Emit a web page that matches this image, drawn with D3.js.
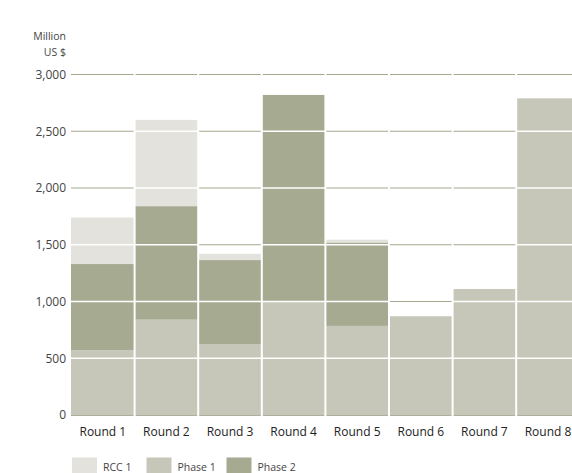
<!DOCTYPE html>
<html>
<head>
<meta charset="utf-8">
<script src="https://cdn.jsdelivr.net/npm/d3@7/dist/d3.min.js"></script>
<style>
  html, body { margin: 0; padding: 0; background: #fff; }
  svg { display: block; font-family: "Open Sans", "Noto Sans", sans-serif; }
</style>
</head>
<body>
<svg id="chart" width="572" height="473"></svg>
<script>
// Funding by round, million US $
const rounds = ["Round 1", "Round 2", "Round 3", "Round 4", "Round 5", "Round 6", "Round 7", "Round 8"];
const phase1 = [570, 840, 625, 1000, 785, 870, 1110, 2790];
const phase2 = [760, 1000, 740, 1820, 735, 0, 0, 0];
const rcc1   = [410, 760, 55, 0, 25, 0, 0, 0];
const seriesNames = ["RCC 1", "Phase 1", "Phase 2"];
const yTicks = [0, 500, 1000, 1500, 2000, 2500, 3000];

const colors = { "RCC 1": "#e3e2dc", "Phase 1": "#c6c7b8", "Phase 2": "#a5aa91" };
const gridColor = "#a6a98f";

const svg = d3.select("#chart");
const x0 = 71, step = 63.6;
const x = d3.scaleBand().domain(rounds).range([x0, x0 + step * rounds.length]).padding(0);
const y = d3.scaleLinear().domain([0, 3000]).range([415, 74.5]);

// stacked data: Phase 1 at bottom, Phase 2, then RCC 1 on top
const rows = rounds.map((r, i) => ({ round: r, "Phase 1": phase1[i], "Phase 2": phase2[i], "RCC 1": rcc1[i] }));
const stack = d3.stack().keys(["Phase 1", "Phase 2", "RCC 1"])(rows);

// background gridlines
svg.append("g").selectAll("line").data(yTicks.filter(t => t > 0)).join("line")
  .attr("x1", x0).attr("x2", 572)
  .attr("y1", d => y(d)).attr("y2", d => y(d))
  .attr("stroke", gridColor).attr("stroke-width", 1.2);

// bars
const bars = svg.append("g");
stack.forEach(layer => {
  bars.selectAll(null).data(layer.filter(d => d[1] > d[0])).join("rect")
    .attr("x", d => x(d.data.round))
    .attr("width", x.bandwidth())
    .attr("y", d => y(d[1]))
    .attr("height", d => y(d[0]) - y(d[1]))
    .attr("fill", colors[layer.key]);
});

// white gridlines across each bar
const totals = rows.map(d => d["Phase 1"] + d["Phase 2"] + d["RCC 1"]);
const overlay = [];
rounds.forEach((r, i) => yTicks.forEach(t => { if (t > 0 && t < totals[i]) overlay.push({ r, t }); }));
svg.append("g").selectAll("line").data(overlay).join("line")
  .attr("x1", d => x(d.r)).attr("x2", d => x(d.r) + x.bandwidth())
  .attr("y1", d => y(d.t)).attr("y2", d => y(d.t))
  .attr("stroke", "#fff").attr("stroke-width", 1.3);

// baseline
svg.append("line")
  .attr("x1", x0).attr("x2", 572)
  .attr("y1", y(0) + 0.5).attr("y2", y(0) + 0.5)
  .attr("stroke", "#aeb09c").attr("stroke-width", 1.2);

// column separators
svg.append("g").selectAll("line").data(rounds.slice(1)).join("line")
  .attr("x1", d => x(d)).attr("x2", d => x(d))
  .attr("y1", y(3000) - 4).attr("y2", y(0) + 2)
  .attr("stroke", "#fff").attr("stroke-width", 2);

// y axis labels
const yAxis = svg.append("g").attr("transform", `translate(${x0 - 4},0)`)
  .call(d3.axisLeft(y).tickValues(yTicks).tickSize(0).tickPadding(1).tickFormat(d3.format(",")));
yAxis.select(".domain").remove();
yAxis.selectAll("text").attr("font-family", "'Open Sans', sans-serif").attr("font-size", 12).attr("fill", "#444");

// unit label
const unit = svg.append("text").attr("text-anchor", "end").attr("font-size", 10.5).attr("fill", "#444");
unit.append("tspan").attr("x", 66).attr("y", 40).text("Million");
unit.append("tspan").attr("x", 66).attr("y", 56).text("US $");

// x axis labels
const xAxis = svg.append("g").attr("transform", `translate(0,${y(0)})`)
  .call(d3.axisBottom(x).tickSize(0).tickPadding(12));
xAxis.select(".domain").remove();
xAxis.selectAll("text").attr("font-family", "'Open Sans', sans-serif").attr("font-size", 12).attr("fill", "#222");

// legend
const legendX = [72, 146.5, 226.5];
const legend = svg.append("g");
seriesNames.forEach((s, i) => {
  legend.append("rect").attr("x", legendX[i]).attr("y", 457.5).attr("width", 25).attr("height", 16).attr("fill", colors[s]);
  legend.append("text").attr("x", legendX[i] + 31).attr("y", 471).attr("font-size", 10.5).attr("fill", "#444").text(s);
});
</script>
</body>
</html>
